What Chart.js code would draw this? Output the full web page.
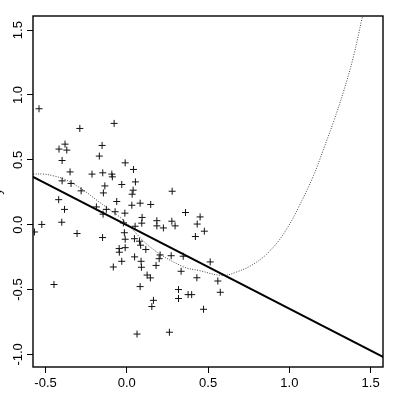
<!DOCTYPE html>
<html>
<head>
<meta charset="utf-8">
<script src="https://cdn.jsdelivr.net/npm/chart.js@4"></script>
<style>
  body { margin: 0; background: #fff; }
  #wrap { width: 400px; height: 395px; }
</style>
</head>
<body>
<div id="wrap"><canvas id="myChart"></canvas></div>
<script>
(function () {
  "use strict";

  const ptsX = [-0.540, -0.078, -0.289, -0.380, -0.417, -0.369, -0.152, -0.169, -0.398, -0.010,
    0.041, -0.349, -0.214, -0.148, -0.092, -0.089, 0.053, -0.398, -0.343, -0.031,
    -0.135, -0.281, -0.144, 0.039, 0.033, 0.279, -0.419, -0.062, -0.383, -0.187,
    -0.126, -0.146, -0.072, -0.012, 0.031, 0.082, 0.147, 0.361, 0.094, -0.400,
    -0.523, -0.568, -0.306, -0.149, -0.021, 0.051, 0.092, 0.185, 0.185, 0.225,
    0.277, 0.297, 0.433, 0.451, 0.422, 0.477, -0.015, -0.010, 0.047, 0.078,
    0.085, -0.047, -0.010, -0.046, 0.117, 0.205, 0.199, 0.273, 0.347, -0.031,
    0.048, 0.088, -0.083, 0.090, 0.180, 0.125, 0.145, 0.334, 0.431, 0.513,
    0.560, 0.575, 0.399, 0.472, -0.448, 0.082, 0.318, 0.318, 0.164, 0.154,
    0.063, 0.262, 0.377];
  const ptsY = [0.894, 0.781, 0.742, 0.621, 0.583, 0.575, 0.611, 0.529, 0.495, 0.477,
    0.426, 0.407, 0.390, 0.400, 0.390, 0.369, 0.330, 0.338, 0.318, 0.310,
    0.299, 0.261, 0.245, 0.266, 0.235, 0.258, 0.193, 0.179, 0.118, 0.137,
    0.118, 0.081, 0.100, 0.089, 0.150, 0.166, 0.156, 0.094, 0.056, 0.019,
    0.002, -0.056, -0.068, -0.099, 0.014, -0.012, 0.012, 0.031, -0.009, -0.025,
    0.027, -0.009, 0.005, 0.060, -0.091, -0.050, -0.062, -0.112, -0.108, -0.127,
    -0.158, -0.184, -0.177, -0.212, -0.191, -0.233, -0.262, -0.239, -0.243, -0.282,
    -0.248, -0.282, -0.326, -0.328, -0.314, -0.388, -0.410, -0.359, -0.409, -0.287,
    -0.434, -0.521, -0.539, -0.652, -0.461, -0.477, -0.500, -0.569, -0.583, -0.631,
    -0.843, -0.829, -0.539];

  // straight fitted line
  const fitX = [-0.6, 1.6];
  const fitY = [0.384, -1.035];

  // dotted curve
  const curveX = [-0.577, -0.514, -0.452, -0.37, -0.267, -0.185, -0.021, 0.143, 0.34, 0.451,
    0.585, 0.677, 0.8, 0.903, 0.985, 1.057, 1.149, 1.211, 1.272, 1.334, 1.395, 1.447, 1.455];
  const curveY = [0.39, 0.39, 0.377, 0.343, 0.266, 0.189, 0.035, -0.171, -0.32, -0.355,
    -0.39, -0.364, -0.287, -0.171, -0.03, 0.135, 0.38, 0.585, 0.795, 1.03, 1.30, 1.59, 1.63];

  const xTicks = [-0.5, 0.0, 0.5, 1.0, 1.5];
  const yTicks = [-1.0, -0.5, 0.0, 0.5, 1.0, 1.5];

  const FONT = { family: "'Liberation Sans', Arial, sans-serif", size: 13 };

  function zip(xs, ys) {
    return xs.map(function (x, i) { return { x: x, y: ys[i] }; });
  }

  // box round the plot region
  const frame = {
    id: "frame",
    afterDatasetsDraw(chart) {
      const a = chart.chartArea;
      const ctx = chart.ctx;
      ctx.save();
      ctx.strokeStyle = "#000";
      ctx.lineWidth = 1.4;
      ctx.strokeRect(a.left, a.top, a.right - a.left, a.bottom - a.top);
      ctx.restore();
    },
  };

  const ctx = document.getElementById("myChart").getContext("2d");
  const myChart = new Chart(ctx, {
    type: "scatter",
    data: {
      datasets: [
        {
          data: zip(ptsX, ptsY),
          pointStyle: "cross",
          pointRadius: 3.5,
          pointBorderWidth: 1,
          borderColor: "#111",
          backgroundColor: "#111",
          showLine: false,
        },
        {
          data: zip(fitX, fitY),
          showLine: true,
          pointRadius: 0,
          borderColor: "#000",
          borderWidth: 2,
        },
        {
          data: zip(curveX, curveY),
          showLine: true,
          pointRadius: 0,
          borderColor: "#444",
          borderWidth: 1,
          borderDash: [1, 1.5],
          tension: 0.4,
        },
      ],
    },
    options: {
      responsive: true,
      maintainAspectRatio: false,
      animation: false,
      layout: { padding: { top: 16, right: 17, left: 0, bottom: 0 } },
      plugins: { legend: { display: false }, tooltip: { enabled: false } },
      scales: {
        x: {
          type: "linear",
          min: -0.577,
          max: 1.576,
          afterBuildTicks: function (s) { s.ticks = xTicks.map(function (v) { return { value: v }; }); },
          afterFit: function (s) { s.height = 28; },
          grid: { drawOnChartArea: false, tickLength: 6, tickColor: "#000", tickWidth: 1 },
          border: { display: false },
          ticks: {
            color: "#000",
            font: FONT,
            padding: 3,
            maxRotation: 0,
            autoSkip: false,
            callback: function (v) { return Number(v).toFixed(1); },
          },
        },
        y: {
          type: "linear",
          min: -1.097,
          max: 1.609,
          afterBuildTicks: function (s) { s.ticks = yTicks.map(function (v) { return { value: v }; }); },
          afterFit: function (s) { s.width = 33; },
          grid: { drawOnChartArea: false, tickLength: 6, tickColor: "#000", tickWidth: 1 },
          border: { display: false },
          title: { display: true, text: "y", color: "#000", font: FONT, padding: { top: -10, bottom: 0 } },
          ticks: {
            color: "#000",
            font: FONT,
            padding: -3,
            minRotation: 90,
            maxRotation: 90,
            crossAlign: "center",
            autoSkip: false,
            callback: function (v) { return Number(v).toFixed(1); },
          },
        },
      },
    },
    plugins: [frame],
  });
})();
</script>
</body>
</html>
